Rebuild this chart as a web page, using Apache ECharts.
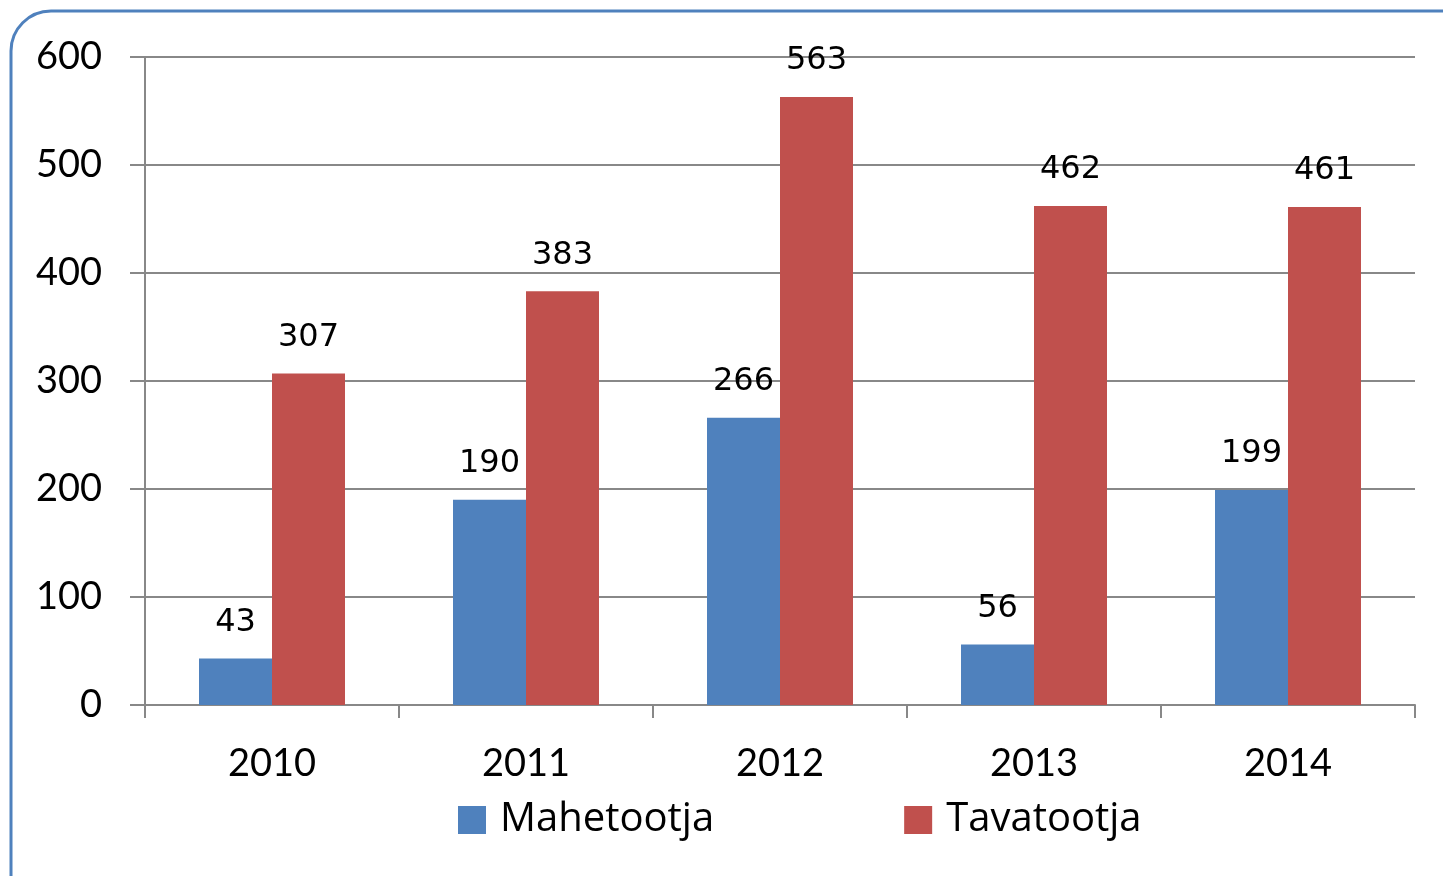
<!DOCTYPE html>
<html>
<head>
<meta charset="utf-8">
<script src="https://cdn.jsdelivr.net/npm/echarts@6/dist/echarts.min.js"></script>
<style>
  html, body { margin: 0; padding: 0; background: #fff; }
  #chart { width: 1443px; height: 876px; }
</style>
</head>
<body>
<div id="chart"></div>
<script>
var years = ['2010', '2011', '2012', '2013', '2014']
var mahetootja = [43, 190, 266, 56, 199]
var tavatootja = [307, 383, 563, 462, 461]

var chart = echarts.init(document.getElementById('chart'))
var font = 'Lato, "Open Sans", sans-serif'
var labelFont = '"DejaVu Sans", sans-serif'

chart.setOption({
  animation: false,
  color: ['#4f81bd', '#c0504d'],
  graphic: [
    {
      type: 'rect',
      shape: { x: 11, y: 11, width: 1480, height: 920, r: 40 },
      style: { fill: 'none', stroke: '#4f81bd', lineWidth: 3 },
      z: -1
    }
  ],
  grid: {
    left: 145,
    right: 28,
    top: 57,
    bottom: 171
  },
  legend: {
    bottom: 31,
    left: 453,
    itemWidth: 28,
    itemHeight: 28,
    itemGap: 190,
    icon: 'rect',
    textStyle: { fontFamily: '"Open Sans", Lato, sans-serif', fontSize: 40, color: '#000', padding: [0, 0, 0, 9] },
    data: ['Mahetootja', 'Tavatootja']
  },
  xAxis: {
    type: 'category',
    data: years,
    axisLine: { lineStyle: { color: '#888', width: 2 } },
    axisTick: { show: true, length: 13, lineStyle: { color: '#888', width: 2 } },
    axisLabel: { fontFamily: font, fontSize: 38, color: '#000', margin: 40 }
  },
  yAxis: {
    type: 'value',
    min: 0,
    max: 600,
    interval: 100,
    axisLine: { show: true, lineStyle: { color: '#888', width: 2 } },
    axisTick: { show: true, length: 15, lineStyle: { color: '#888', width: 2 } },
    splitLine: { lineStyle: { color: '#888', width: 2 } },
    axisLabel: { fontFamily: font, fontSize: 38, color: '#000', margin: 43 }
  },
  series: [
    {
      name: 'Mahetootja',
      type: 'bar',
      data: mahetootja,
      barWidth: 73,
      barGap: '0%',
      label: {
        show: true,
        position: 'top',
        distance: 20,
        fontFamily: labelFont,
        fontSize: 32,
        color: '#000'
      }
    },
    {
      name: 'Tavatootja',
      type: 'bar',
      data: tavatootja,
      barWidth: 73,
      barGap: '0%',
      label: {
        show: true,
        position: 'top',
        distance: 20,
        fontFamily: labelFont,
        fontSize: 32,
        color: '#000'
      }
    }
  ]
})
</script>
</body>
</html>
